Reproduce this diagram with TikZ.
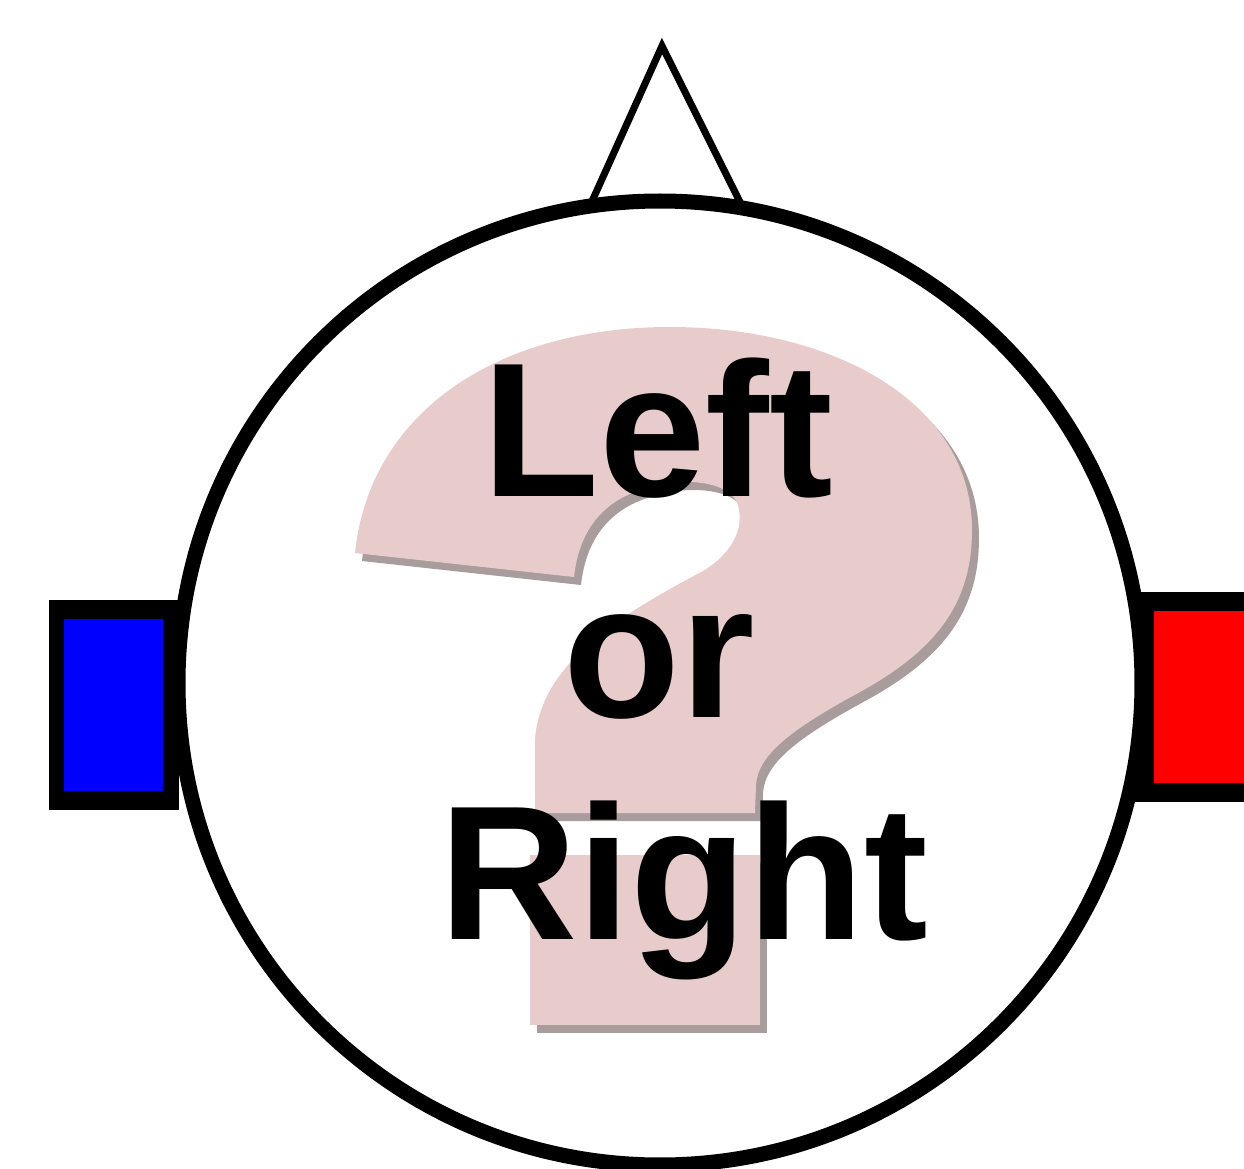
\documentclass[tikz,border=0pt]{standalone}
\usepackage{fontspec}
\setmainfont{Liberation Sans}
\definecolor{qpink}{HTML}{E8CCCC}
\definecolor{qshadow}{HTML}{A89C9C}
\begin{document}
\begin{tikzpicture}[x=0.01cm,y=-0.01cm,
  headline/.style={draw=black,line width=4.27pt},
  noseline/.style={draw=black,line width=2pt,line join=miter},
  lbl/.style={font=\fontsize{54.4}{60}\selectfont\bfseries,anchor=base,inner sep=0pt},
  qmark/.pic={
    \path[pic actions] (355,553) -- (574,577)
      .. controls (578,540) and (595,505) .. (640,490)
      .. controls (680,476) and (730,480) .. (738,505)
      .. controls (745,530) and (730,555) .. (703,571)
      .. controls (630,610) and (540,660) .. (535,740)
      -- (535,813) -- (755,813) -- (756,785)
      .. controls (758,755) and (790,730) .. (860,692)
      .. controls (940,648) and (972,600) .. (972,530)
      .. controls (972,400) and (830,327) .. (670,327)
      .. controls (500,327) and (370,410) .. (355,553) -- cycle;
    \path[pic actions] (530,855) rectangle (760,1025);
  }]
\useasboundingbox (0,0) rectangle (1244,1169);
\fill[white] (0,0) rectangle (1244,1169);
% ears
\fill[black] (49,600) rectangle (179,810);
\fill[blue] (64,619) rectangle (163,791);
\fill[black] (1135,592) rectangle (1260,802);
\fill[red] (1154,611) rectangle (1260,783);
% nose
\coordinate (noseL) at (589,208);
\coordinate (apex) at (662,46);
\coordinate (noseR) at (743,208);
\draw[noseline] (noseL) -- (apex) -- (noseR);
% head
\coordinate (headc) at (660,683);
\path[headline,fill=white] (headc) circle [radius=482];
% question mark
\pic[fill=qshadow] at (7,8) {qmark};
\pic[fill=qpink] at (0,0) {qmark};
% text
\node[lbl] (tleft) at (658,496) {Left};
\node[lbl] (tor) at (659,717) {or};
\node[lbl] (tright) at (684,939) {Right};
\end{tikzpicture}
\end{document}
